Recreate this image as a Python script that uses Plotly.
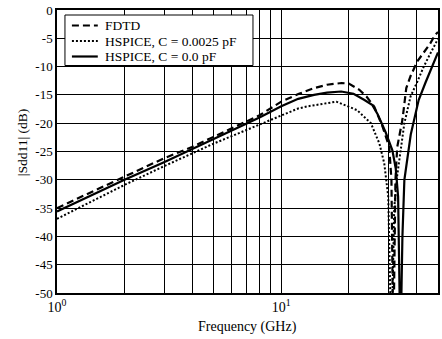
import math
import plotly.graph_objects as go

# FDTD (dashed)
f_fdtd = [1, 2, 3, 4, 5, 6, 8, 10, 12, 14, 16, 18.6, 20, 22.3, 24, 26, 28.3, 30.3, 31.0, 31.6,
          32.3, 32.9, 34.0, 34.7, 36.1, 37.7, 40.4, 43.8, 46.2, 48.5, 50]
db_fdtd = [-35.0, -29.4, -26.2, -24.2, -22.4, -21.0, -18.6, -16.2, -14.8, -13.8, -13.2, -12.9, -13.0,
           -14.1, -15.3, -17.1, -20.6, -24.2, -30.0, -60.0,
           -30.0, -24.2, -21.0, -19.4, -13.8, -11.7, -9.1, -7.2, -5.9, -4.4, -3.9]

# HSPICE, C = 0.0025 pF (dotted)
f_c25 = [1, 2, 3, 4, 5, 6, 8, 10, 11.9, 13.2, 15, 17.6, 21.8, 25.1, 27.4, 28.8, 30.0, 31.0,
         31.9, 32.9, 35.4, 37.7, 40.4, 43.2, 46.2, 49.5, 50]
db_c25 = [-36.9, -30.9, -27.6, -25.3, -23.6, -22.3, -20.2, -18.6, -17.4, -17.0, -16.6, -16.2, -17.7,
          -20.0, -23.6, -27.1, -33.0, -60.0,
          -35.0, -29.2, -20.0, -15.3, -12.7, -10.0, -7.7, -5.3, -5.1]

# HSPICE, C = 0.0 pF (solid)
f_c0 = [1, 2, 3, 4, 5, 6, 8, 10, 11.9, 14, 16, 18.5, 21, 23.5, 25.5, 26.9, 29.2, 31.3, 32.4,
        33.2, 34.0, 34.7, 35.4, 37.8, 39.2, 41.0, 43.9, 47.1, 49.5, 50]
db_c0 = [-35.6, -30.0, -26.9, -24.6, -22.8, -21.4, -19.0, -17.0, -15.7, -15.0, -14.6, -14.4, -14.8,
         -15.9, -16.8, -18.4, -21.6, -24.8, -28.0, -33.0, -60.0,
         -40.0, -30.0, -22.0, -19.4, -15.9, -12.9, -10.0, -7.7, -7.5]

series_names = ["FDTD", "HSPICE, C = 0.0025 pF", "HSPICE, C = 0.0 pF"]

x_major_vals = [1, 10]
x_major_text = ["10<sup>0</sup>", "10<sup>1</sup>"]
x_minor_vals = [2, 3, 4, 5, 6, 7, 8, 9, 20, 30, 40]
y_tick_vals = [0, -5, -10, -15, -20, -25, -30, -35, -40, -45, -50]

FONT = "Liberation Serif, Times New Roman, serif"
styles = [dict(color="black", width=2.2, dash="7px,4px"),
          dict(color="black", width=2, dash="2px,2px"),
          dict(color="black", width=2.2)]

fig = go.Figure()
for fx, fy, nm, st in zip([f_fdtd, f_c25, f_c0], [db_fdtd, db_c25, db_c0], series_names, styles):
    fig.add_trace(go.Scatter(x=fx, y=fy, mode="lines", name=nm, line=st, showlegend=False))

# plot-area geometry (pixels) used to place the hand-drawn legend
L, R, T, B = 57, 440, 10, 293
def px(xp):
    return (xp - L) / (R - L)
def py(yp):
    return (B - yp) / (B - T)

shapes = [dict(type="rect", xref="paper", yref="paper", x0=px(65), x1=px(254), y0=py(65.5), y1=py(15),
               fillcolor="white", line=dict(color="black", width=1), layer="above")]
annotations = []
row_y = [25.5, 41, 56.5]
for st, nm, ry in zip(styles, series_names, row_y):
    shapes.append(dict(type="line", xref="paper", yref="paper", x0=px(72), x1=px(98), y0=py(ry), y1=py(ry),
                       line=dict(color="black", width=st["width"], dash=st.get("dash", "solid")), layer="above"))
    annotations.append(dict(text=nm, xref="paper", yref="paper", x=px(104), y=py(ry), xanchor="left",
                            yanchor="middle", showarrow=False, borderpad=0,
                            font=dict(family=FONT, size=13.5, color="black")))

annotations.append(dict(text="|Sdd11| (dB)", xref="paper", yref="paper", x=px(22), y=py(142),
                        xanchor="center", yanchor="middle", textangle=-90, showarrow=False,
                        font=dict(family=FONT, size=13.5, color="black")))
annotations.append(dict(text="Frequency (GHz)", xref="paper", yref="paper", x=px(248.5), y=py(327),
                        xanchor="center", yanchor="middle", showarrow=False,
                        font=dict(family=FONT, size=14, color="black")))

fig.update_layout(
    width=442, height=339,
    margin=dict(l=L, r=442 - R, t=T, b=339 - B),
    paper_bgcolor="white", plot_bgcolor="white",
    font=dict(family=FONT, size=13, color="black"),
    showlegend=False,
    shapes=shapes, annotations=annotations,
    xaxis=dict(type="log", range=[0, math.log10(50)],
               tickmode="array", tickvals=x_major_vals, ticktext=x_major_text,
               showgrid=True, gridcolor="black", gridwidth=1.3,
               minor=dict(tickmode="array", tickvals=x_minor_vals, showgrid=True,
                          gridcolor="black", gridwidth=1.3, ticks=""),
               showline=True, linecolor="black", linewidth=1.5, mirror=True,
               ticks="", tickfont=dict(family=FONT, size=14),
               zeroline=False),
    yaxis=dict(range=[-50, 0], tickmode="array", tickvals=y_tick_vals,
               ticktext=[str(v) for v in y_tick_vals],
               showgrid=True, gridcolor="black", gridwidth=1.3,
               showline=True, linecolor="black", linewidth=1.5, mirror=True,
               ticks="", tickfont=dict(family=FONT, size=13),
               zeroline=False),
)

fig.write_html("out.html")
